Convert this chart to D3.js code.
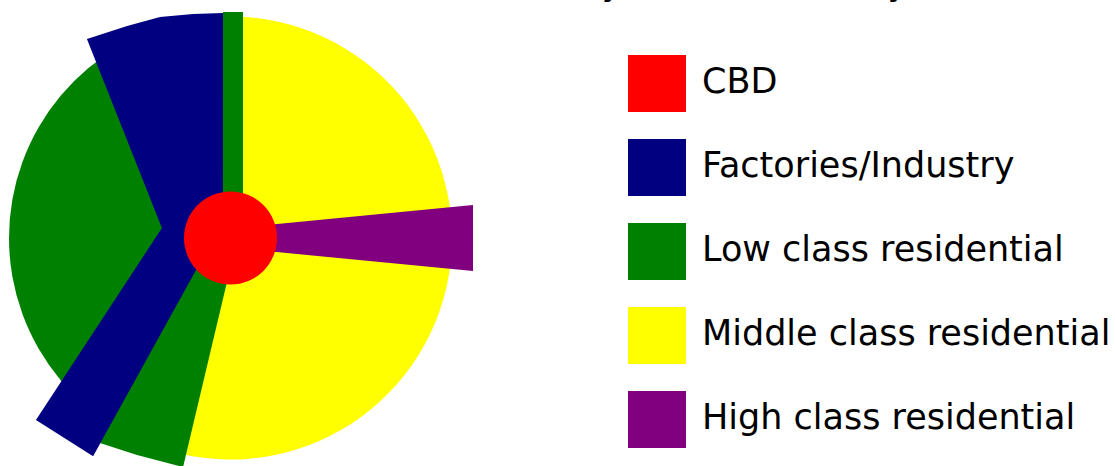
<!DOCTYPE html>
<html>
<head>
<meta charset="utf-8">
<script src="https://cdn.jsdelivr.net/npm/d3@7"></script>
<style>
  html, body { margin: 0; padding: 0; background: #ffffff; }
  svg { display: block; }
</style>
</head>
<body>
<svg id="chart" width="1115" height="466"></svg>
<script>
// ---------------- DATA ----------------
const titleText = "Hoyt model of a city";

const zones = ["CBD", "Factories/Industry", "Low class residential", "Middle class residential", "High class residential"];

// Base ring of the city (radius 1 = city edge), angles in degrees clockwise from north
const baseZones = ["Middle class residential", "Low class residential"];
const baseStart = [0, 200];
const baseEnd = [200, 360];

// Sectors drawn over the base ring: outline vertices as [angle (deg), distance (city radii)]
const sectorZones = ["Low class residential", "Factories/Industry", "Low class residential", "High class residential"];
const sectorAngles = [
  [240.3, 178.9, 191.7, 203.3, 212.5],
  [358.1, 316.8, 240.3, 212.2, 226.9, 278.3, 324.2, 334.0, 342.3, 350.5],
  [358.1, 3.17, 28.5, 341.9],
  [59.5, 82.25, 97.75, 120.5]
];
const sectorRadii = [
  [0.127, 0.122, 1.056, 1.067, 1.097],
  [1.016, 0.05, 0.127, 1.164, 1.203, 0.313, 1.108, 1.065, 1.047, 1.025],
  [1.021, 1.022, 0.118, 0.109],
  [0.102, 1.105, 1.105, 0.102]
];

// Central business district radius (city radii)
const cbdRadius = 0.21;

// ---------------- STYLE / LAYOUT ----------------
const palette = {
  "CBD": "#ff0000",
  "Factories/Industry": "#000080",
  "Low class residential": "#008000",
  "Middle class residential": "#ffff00",
  "High class residential": "#800080"
};
const cx = 230.5, cy = 238, R = 221.5;
const fontFamily = "'DejaVu Sans', Verdana, sans-serif";

const svg = d3.select("#chart");
svg.append("rect").attr("width", 1115).attr("height", 466).attr("fill", "#ffffff");

const rScale = d3.scaleLinear().domain([0, 1]).range([0, R]);
const aScale = d3.scaleLinear().domain([0, 360]).range([0, 2 * Math.PI]);

const g = svg.append("g").attr("transform", `translate(${cx},${cy})`);

// base ring
const arc = d3.arc();
g.selectAll("path.base")
  .data(baseZones.map((z, i) => ({ zone: z, s: baseStart[i], e: baseEnd[i] })))
  .join("path")
  .attr("class", "base")
  .attr("d", d => arc({ innerRadius: 0, outerRadius: rScale(1), startAngle: aScale(d.s), endAngle: aScale(d.e) }))
  .attr("fill", d => palette[d.zone]);

// sectors
const radial = d3.lineRadial()
  .angle(d => aScale(d[0]))
  .radius(d => rScale(d[1]))
  .curve(d3.curveLinearClosed);

g.selectAll("path.sector")
  .data(sectorZones.map((z, i) => ({ zone: z, pts: sectorAngles[i].map((a, j) => [a, sectorRadii[i][j]]) })))
  .join("path")
  .attr("class", "sector")
  .attr("d", d => radial(d.pts))
  .attr("fill", d => palette[d.zone]);

// CBD
g.append("path")
  .attr("d", arc({ innerRadius: 0, outerRadius: rScale(cbdRadius), startAngle: 0, endAngle: 2 * Math.PI }))
  .attr("fill", palette["CBD"]);

// title (mostly above the frame, as in the reference)
svg.append("text")
  .attr("x", 554).attr("y", -5)
  .attr("font-family", fontFamily).attr("font-size", 35)
  .attr("fill", "#000")
  .text(titleText);

// legend
const legendY = d3.scalePoint().domain(zones).range([55, 391]);
const leg = svg.append("g");
const rows = leg.selectAll("g").data(zones).join("g")
  .attr("transform", d => `translate(628,${legendY(d)})`);
rows.append("rect")
  .attr("width", 58).attr("height", 57)
  .attr("fill", d => palette[d]);
rows.append("text")
  .attr("x", 74).attr("y", 38)
  .attr("font-family", fontFamily).attr("font-size", 35)
  .attr("fill", "#000")
  .text(d => d);
</script>
</body>
</html>
